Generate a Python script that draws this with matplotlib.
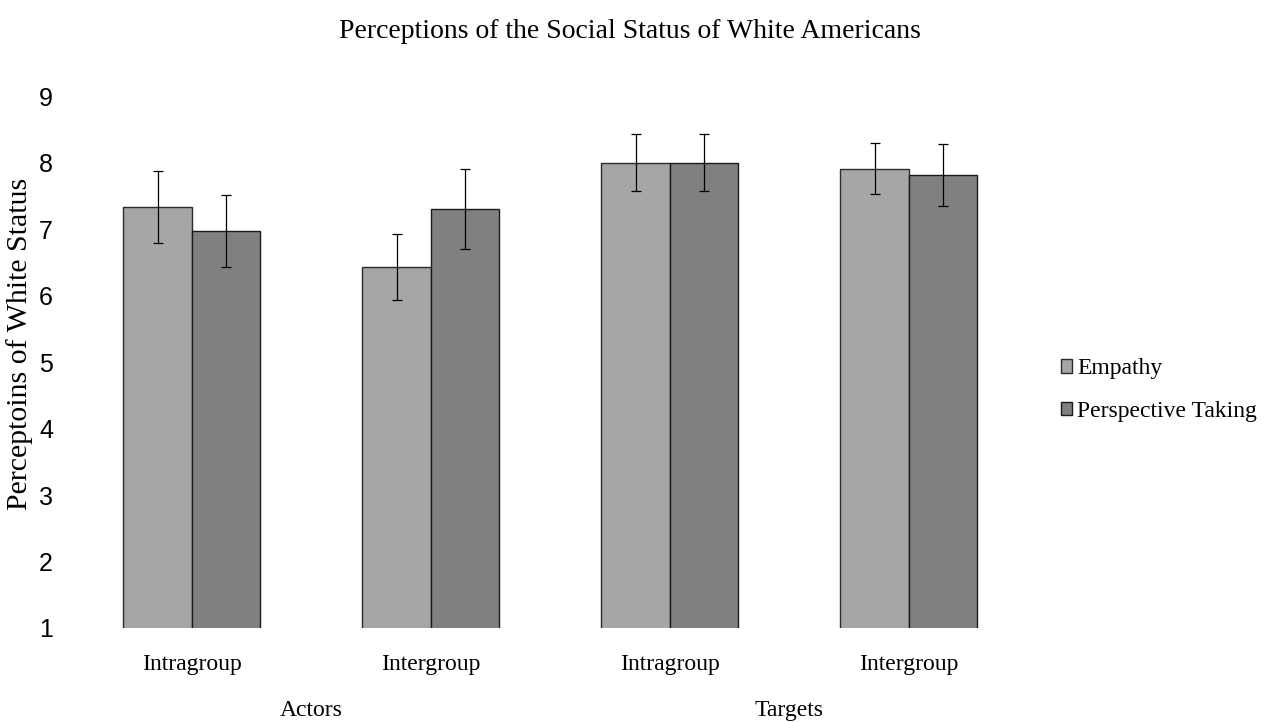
import numpy as np
import matplotlib
matplotlib.use("Agg")
import matplotlib.pyplot as plt
from matplotlib.patches import Patch
from matplotlib import transforms

# mean ratings and error bar half-widths per condition
conditions = ["Intragroup", "Intergroup", "Intragroup", "Intergroup"]
groups = ["Actors", "Targets"]
empathy = [7.33, 6.43, 8.00, 7.91]
empathy_err = [0.54, 0.50, 0.43, 0.39]
perspective = [6.97, 7.30, 8.00, 7.81]
perspective_err = [0.54, 0.60, 0.43, 0.47]

SERIF = "Liberation Serif"
SANS = "Liberation Sans"

fig = plt.figure(figsize=(12.71, 7.22), dpi=100)
ax = fig.add_axes([0.057, 0.1302, 0.752, 0.7368])

x = np.arange(len(conditions))
w = 0.2866
err_kw = dict(ecolor="black", elinewidth=0.9, capsize=3.3, capthick=0.9)
ax.bar(x - w / 2, empathy, w, yerr=empathy_err,
       color="#a6a6a6", edgecolor="#2b2b2b", linewidth=1.0,
       error_kw=err_kw, label="Empathy")
ax.bar(x + w / 2, perspective, w, yerr=perspective_err,
       color="#808080", edgecolor="#1a1a1a", linewidth=1.0,
       error_kw=err_kw, label="Perspective Taking")

ax.set_xlim(-0.5, len(conditions) - 0.5)
ax.set_ylim(1, 9)
ax.set_yticks(range(1, 10))
ax.tick_params(axis="y", length=0, pad=14, labelsize=18)
for lab in ax.get_yticklabels():
    lab.set_fontfamily(SANS)

ax.set_xticks(x)
ax.set_xticklabels(conditions, fontfamily=SERIF, fontsize=17)
ax.tick_params(axis="x", length=0, pad=18.5)

for s in ax.spines.values():
    s.set_visible(False)

# outer category labels under each pair of conditions
trans = transforms.blended_transform_factory(ax.transData, ax.transAxes)
for i, g in enumerate(groups):
    ax.text(2 * i + 0.5, -0.156, g, transform=trans, ha="center",
            va="center", fontfamily=SERIF, fontsize=17)

fig.text(20 / 1271, 1 - 344 / 722, "Perceptoins of White Status",
         rotation=90, ha="center", va="center",
         fontfamily=SERIF, fontsize=21.5)

fig.text(629.5 / 1271, 1 - 31 / 722,
         "Perceptions of the Social Status of White Americans",
         ha="center", va="center", fontfamily=SERIF, fontsize=20)

handles = [Patch(facecolor="#a6a6a6", edgecolor="#2b2b2b", linewidth=1.0),
           Patch(facecolor="#808080", edgecolor="#1a1a1a", linewidth=1.0)]
ax.legend(handles, ["Empathy", "Perspective Taking"],
          loc="center left", bbox_to_anchor=(1.024, 0.447), frameon=False,
          prop={"family": SERIF, "size": 17},
          handlelength=0.5, handleheight=0.5, handletextpad=0.2,
          labelspacing=0.91, borderaxespad=0)

fig.savefig("out.png", dpi=100)
